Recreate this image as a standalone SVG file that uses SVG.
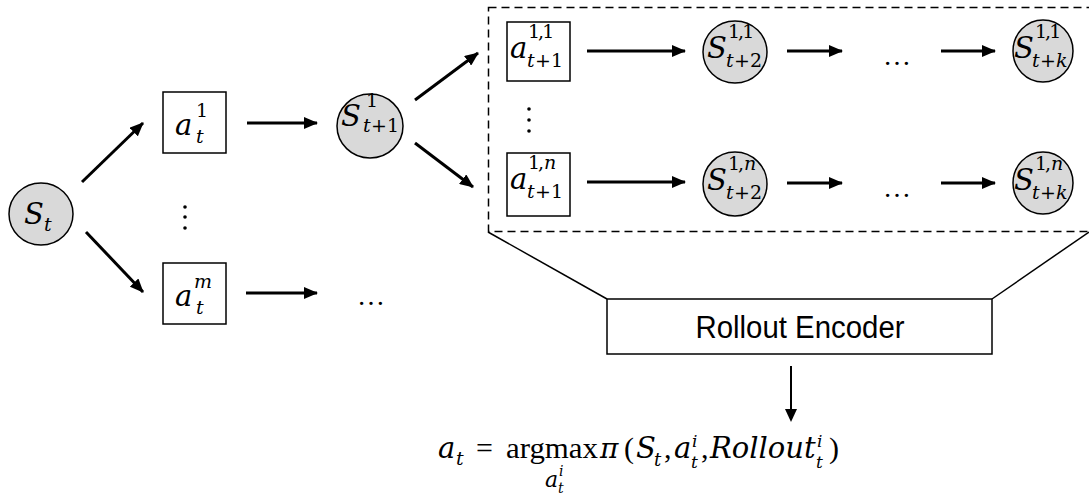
<svg xmlns="http://www.w3.org/2000/svg" width="1089" height="495" viewBox="0 0 1089 495">
<style>
.st{fill:#d9d9d9;stroke:#000;stroke-width:1.5}
.bx{fill:#fff;stroke:#000;stroke-width:1.5}
.m{font-family:"DejaVu Serif","Liberation Serif",serif;font-style:italic;fill:#000}
.u{font-family:"DejaVu Serif","Liberation Serif",serif;fill:#000}
.r{font-family:"Liberation Serif","DejaVu Serif",serif;fill:#000}
.big{font-size:29px}
.sm{font-size:19px}
.arr{stroke:#000;stroke-width:3;fill:none;marker-end:url(#ah)}
.ln{stroke:#000;stroke-width:1.5;fill:none}
.dot{fill:#000}
</style>
<defs>
<marker id="ah" markerUnits="userSpaceOnUse" markerWidth="14" markerHeight="12" refX="13" refY="6" orient="auto">
<path d="M0,0 L14,6 L0,12 z" fill="#000"/>
</marker>
</defs>
<rect width="1089" height="495" fill="#fff"/>

<g id="connectors">
<line class="arr" x1="82" y1="182" x2="143" y2="123"/>
<line class="arr" x1="86" y1="232" x2="143" y2="292"/>
<line class="arr" x1="247" y1="123" x2="317" y2="123"/>
<line class="arr" x1="246" y1="293" x2="317" y2="293"/>
<line class="arr" x1="415" y1="100" x2="478" y2="53"/>
<line class="arr" x1="415" y1="143" x2="473" y2="187"/>
<line class="arr" x1="587" y1="51" x2="685" y2="51"/>
<line class="arr" x1="787" y1="51" x2="842" y2="51"/>
<line class="arr" x1="941" y1="51" x2="995" y2="51"/>
<line class="arr" x1="587" y1="182" x2="685" y2="182"/>
<line class="arr" x1="787" y1="183" x2="842" y2="183"/>
<line class="arr" x1="941" y1="183" x2="995" y2="183"/>
<line x1="791" y1="366" x2="791" y2="410" stroke="#000" stroke-width="2"/>
<path d="M785,409 L797,409 L791,422 z" fill="#000"/>
<line class="ln" x1="488" y1="232" x2="607" y2="299"/>
<line class="ln" x1="1089" y1="232" x2="992" y2="299"/>
</g>

<g id="rollout-frame">
<rect x="488.5" y="7.5" width="610" height="224" fill="none" stroke="#000" stroke-width="1.5" stroke-dasharray="8,5"/>
</g>

<g id="node-st">
<ellipse class="st" cx="41" cy="214" rx="32" ry="31"/>
<text class="m big" x="24" y="224">S</text>
<text class="m sm" x="44" y="231">t</text>
</g>

<g id="node-a1">
<rect class="bx" x="163" y="92" width="63" height="61"/>
<text class="m big" x="175" y="135">a</text>
<text class="u sm" x="196" y="117">1</text>
<text class="m sm" x="196" y="143">t</text>
</g>

<g id="dots-left">
<circle class="dot" cx="185" cy="207" r="1.8"/>
<circle class="dot" cx="185" cy="217" r="1.8"/>
<circle class="dot" cx="185" cy="228" r="1.8"/>
</g>

<g id="node-am">
<rect class="bx" x="163" y="263" width="63" height="61"/>
<text class="m big" x="175" y="306">a</text>
<text class="m sm" x="194" y="288">m</text>
<text class="m sm" x="196" y="314">t</text>
</g>

<g id="ellipsis-left">
<text class="r" font-size="28" x="357" y="305">…</text>
</g>

<g id="node-s1">
<ellipse class="st" cx="370" cy="126" rx="33" ry="32"/>
<text class="m big" x="341" y="126">S</text>
<text class="u sm" x="366" y="107">1</text>
<text class="m sm" x="363" y="132">t</text>
<text class="u sm" x="371" y="132">+1</text>
</g>

<g id="node-a11">
<rect class="bx" x="507" y="22" width="63" height="59"/>
<text class="m big" x="510" y="58">a</text>
<text class="u sm" x="528" y="38" letter-spacing="-2">1,1</text>
<text class="m sm" x="527" y="67">t</text>
<text class="u sm" x="535" y="67">+1</text>
</g>

<g id="dots-right">
<circle class="dot" cx="529" cy="109" r="1.8"/>
<circle class="dot" cx="529" cy="120" r="1.8"/>
<circle class="dot" cx="529" cy="131" r="1.8"/>
</g>

<g id="node-a1n">
<rect class="bx" x="507" y="153" width="63" height="63"/>
<text class="m big" x="510" y="189">a</text>
<text class="u sm" x="528" y="169" letter-spacing="-2">1,</text>
<text class="m sm" x="544" y="169">n</text>
<text class="m sm" x="527" y="198">t</text>
<text class="u sm" x="535" y="198">+1</text>
</g>

<g id="node-s11-t2">
<ellipse class="st" cx="735" cy="52" rx="32" ry="31"/>
<text class="m big" x="707" y="58">S</text>
<text class="u sm" x="728" y="38" letter-spacing="-2">1,1</text>
<text class="m sm" x="726" y="67">t</text>
<text class="u sm" x="734" y="67">+2</text>
</g>

<g id="node-s1n-t2">
<ellipse class="st" cx="735" cy="184" rx="32" ry="32"/>
<text class="m big" x="707" y="190">S</text>
<text class="u sm" x="728" y="170" letter-spacing="-2">1,</text>
<text class="m sm" x="744" y="170">n</text>
<text class="m sm" x="726" y="199">t</text>
<text class="u sm" x="734" y="199">+2</text>
</g>

<g id="ellipsis-1">
<text class="r" font-size="28" x="883" y="65">…</text>
</g>
<g id="ellipsis-n">
<text class="r" font-size="28" x="883" y="197">…</text>
</g>

<g id="node-s11-tk">
<ellipse class="st" cx="1043" cy="51" rx="30" ry="31"/>
<text class="m big" x="1014" y="58">S</text>
<text class="u sm" x="1035" y="38" letter-spacing="-2">1,1</text>
<text class="m sm" x="1032" y="67">t</text>
<text class="u sm" x="1040" y="67">+</text>
<text class="m sm" x="1056" y="67">k</text>
</g>

<g id="node-s1n-tk">
<ellipse class="st" cx="1043" cy="183" rx="30" ry="31"/>
<text class="m big" x="1014" y="190">S</text>
<text class="u sm" x="1035" y="170" letter-spacing="-2">1,</text>
<text class="m sm" x="1051" y="170">n</text>
<text class="m sm" x="1032" y="199">t</text>
<text class="u sm" x="1040" y="199">+</text>
<text class="m sm" x="1056" y="199">k</text>
</g>

<g id="node-encoder">
<rect class="bx" x="607" y="299" width="385" height="55"/>
<text x="800" y="338" font-family="Liberation Sans, Arial, sans-serif" font-size="31" text-anchor="middle" textLength="209" lengthAdjust="spacingAndGlyphs" fill="#000">Rollout Encoder</text>
</g>

<g id="formula">
<text class="m" font-size="29" x="438" y="458">a</text>
<text class="m" font-size="19" x="456" y="465">t</text>
<text class="r" font-size="30" x="476" y="458">=</text>
<text class="r" font-size="30" x="506" y="458" textLength="92" lengthAdjust="spacingAndGlyphs">argmax</text>
<text class="m" font-size="28" x="600" y="458">π</text>
<text class="r" font-size="30" x="624" y="458">(</text>
<text class="m" font-size="29" x="636" y="458">S</text>
<text class="m" font-size="18" x="654" y="466">t</text>
<text class="r" font-size="30" x="664" y="458">,</text>
<text class="m" font-size="29" x="674" y="458">a</text>
<text class="m" font-size="17" x="692" y="447">i</text>
<text class="m" font-size="17" x="691" y="468">t</text>
<text class="r" font-size="30" x="701" y="458">,</text>
<text class="m" font-size="29" x="710" y="458">Rollout</text>
<text class="m" font-size="17" x="817" y="447">i</text>
<text class="m" font-size="17" x="816" y="468">t</text>
<text class="r" font-size="30" x="829" y="458">)</text>
<text class="m" font-size="22" x="545" y="487">a</text>
<text class="m" font-size="14" x="559" y="476">i</text>
<text class="m" font-size="14" x="558" y="493">t</text>
</g>
</svg>
